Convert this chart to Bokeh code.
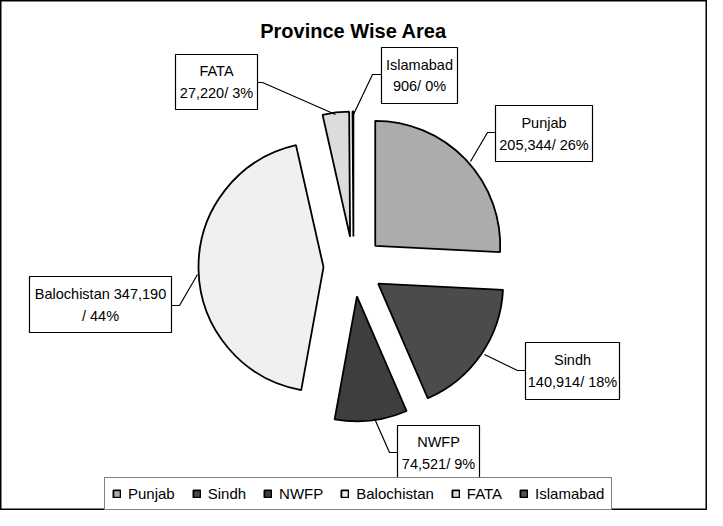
import math
from bokeh.plotting import figure
from bokeh.models import Range1d, Legend, LegendItem
from bokeh.embed import file_html
from bokeh.resources import INLINE
from bokeh.core.properties import value

# ---------------- data ----------------
chart_title = "Province Wise Area"
provinces = ["Punjab", "Sindh", "NWFP", "Balochistan", "FATA", "Islamabad"]
areas = [205344, 140914, 74521, 347190, 27220, 906]

# ---------------- styles ----------------
colors = ["#acacac", "#4b4b4b", "#3e3e3e", "#f0f0f0", "#dcdcdc", "#555555"]
FONT = "Liberation Sans"
PAGE_H = 526


def Y(sy):
    # page pixel y (downwards) -> data y (upwards)
    return PAGE_H - sy


p = figure(width=707, height=510, x_range=Range1d(8, 715), y_range=Range1d(8, 518),
           output_backend="svg", toolbar_location=None,
           x_axis_type=None, y_axis_type=None, min_border=0)
p.grid.visible = False
p.outline_line_color = "black"
p.outline_line_width = 2
p.background_fill_color = "white"
p.border_fill_color = "white"

# ---------------- exploded pie ----------------
CX, CY = 361, Y(274)
R = 125
EXPLODE = 30
total = sum(areas)
cum = 0
renderers = []
for i, (name, a) in enumerate(zip(provinces, areas)):
    t0 = cum / total * 2 * math.pi
    t1 = (cum + a) / total * 2 * math.pi
    cum += a
    mid = (t0 + t1) / 2
    cx = CX + EXPLODE * math.sin(mid)
    cy = CY + EXPLODE * math.cos(mid)
    r = p.wedge(x=[cx], y=[cy], radius=R,
                start_angle=math.pi / 2 - t1, end_angle=math.pi / 2 - t0,
                direction="anticlock",
                fill_color=colors[i], line_color="black", line_width=1.8)
    renderers.append(r)

# ---------------- data labels ----------------
pcts = [round(a / total * 100) for a in areas]
label_lines = []
for name, a, pc in zip(provinces, areas, pcts):
    if name == "Balochistan":
        label_lines.append([f"{name} {a:,}", f"/ {pc}%"])
    else:
        label_lines.append([name, f"{a:,}/ {pc}%"])

# label layout in page pixels: box (left, top, right, bottom), line centres, leader polyline
label_boxes = [(503, 113, 600, 169), (533, 350, 627, 407), (405, 433, 487, 488),
               (37, 284, 179, 340), (183, 62, 265, 117), (389, 55, 465, 111)]
label_line_y = [(130, 152), (367, 389), (449, 471), (301, 323), (78, 100), (72, 93)]
leaders = [[(503, 140), (495, 140), (478, 169)],
           [(533, 378), (525, 378), (492, 362)],
           [(405, 460), (397, 460), (382, 426)],
           [(179, 313), (187, 313), (205, 282)],
           [(265, 90), (270, 90), (343, 122)],
           [(389, 82), (380, 82), (360, 124)]]

p.multi_line(xs=[[pt[0] for pt in L] for L in leaders],
             ys=[[Y(pt[1]) for pt in L] for L in leaders],
             line_color="black", line_width=1.2)

p.quad(left=[b[0] for b in label_boxes], right=[b[2] for b in label_boxes],
       top=[Y(b[1]) for b in label_boxes], bottom=[Y(b[3]) for b in label_boxes],
       fill_color="white", line_color="black", line_width=1.2)

tx, ty, tt = [], [], []
for box, ly, lines in zip(label_boxes, label_line_y, label_lines):
    xc = (box[0] + box[2]) / 2
    for yy, s in zip(ly, lines):
        tx.append(xc)
        ty.append(Y(yy))
        tt.append(s)
p.text(x=tx, y=ty, text=tt, text_align="center", text_baseline="middle",
       text_font=value(FONT), text_font_size="14.5px", text_color="black")

# ---------------- title ----------------
p.text(x=[361], y=[Y(38)], text=[chart_title], text_align="center", text_baseline="middle",
       text_font=value(FONT), text_font_size="20px", text_font_style="bold", text_color="black")

# ---------------- legend ----------------
items = [LegendItem(label=name, renderers=[renderers[i]]) for i, name in enumerate(provinces)]
legend = Legend(items=items, orientation="horizontal", location=(104, 0),
                border_line_color="black", border_line_width=1.2,
                label_text_font=FONT, label_text_font_size="15px", label_text_color="black",
                label_height=17, glyph_width=9, glyph_height=9, padding=7, spacing=17,
                label_standoff=7, margin=0, background_fill_color="white",
                background_fill_alpha=1)
p.add_layout(legend)

open("out.html", "w").write(file_html(p, INLINE))
